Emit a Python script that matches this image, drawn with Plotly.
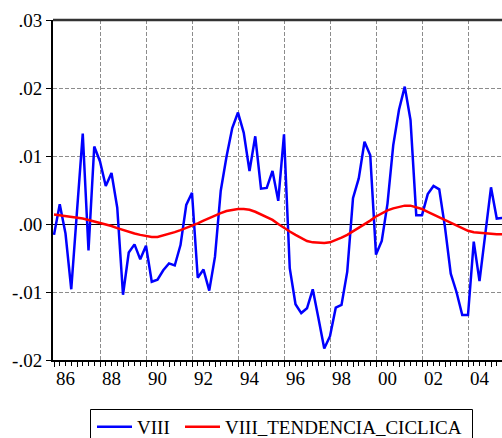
import plotly.graph_objects as go

# Quarterly data, 1986Q1 - 2005Q3
start_year = 1986
viii = [
    -0.0016, 0.0029, -0.0014, -0.0096,
    0.0019, 0.0133, -0.0039, 0.0114,
    0.0092, 0.0056, 0.0075, 0.0024,
    -0.0104, -0.0042, -0.0030, -0.0052,
    -0.0032, -0.0085, -0.0082, -0.0068,
    -0.0058, -0.0061, -0.0031, 0.0028,
    0.0046, -0.0079, -0.0067, -0.0098,
    -0.0048, 0.0049, 0.0099, 0.0141,
    0.0164, 0.0134, 0.0078, 0.0129,
    0.0052, 0.0053, 0.0078, 0.0034,
    0.0132, -0.0065, -0.0118, -0.0131,
    -0.0124, -0.0096, -0.0139, -0.0183,
    -0.0165, -0.0123, -0.0119, -0.0070,
    0.0038, 0.0067, 0.0121, 0.0101,
    -0.0045, -0.0025, 0.0030, 0.0116,
    0.0168, 0.0202, 0.0153, 0.0013,
    0.0013, 0.0044, 0.0056, 0.0051,
    -0.0005, -0.0073, -0.0100, -0.0134,
    -0.0134, -0.0026, -0.0084, -0.0014,
    0.0054, 0.0008, 0.0009,
]
tendencia = [
    0.0014, 0.0013, 0.0012, 0.0011,
    0.0010, 0.0008, 0.0006, 0.0004,
    0.0002, 0.0000, -0.0003, -0.0006,
    -0.0009, -0.0012, -0.0014, -0.0016,
    -0.0018, -0.0019, -0.0019, -0.0017,
    -0.0015, -0.0012, -0.0009, -0.0006,
    -0.0002, 0.0001, 0.0005, 0.0009,
    0.0012, 0.0016, 0.0019, 0.0021,
    0.0022, 0.0022, 0.0021, 0.0018,
    0.0014, 0.0010, 0.0006, 0.0000,
    -0.0006, -0.0011, -0.0016, -0.0021,
    -0.0025, -0.0027, -0.0028, -0.0028,
    -0.0027, -0.0024, -0.0020, -0.0016,
    -0.0011, -0.0006, -0.0001, 0.0005,
    0.0011, 0.0016, 0.0020, 0.0023,
    0.0025, 0.0027, 0.0027, 0.0025,
    0.0022, 0.0018, 0.0014, 0.0010,
    0.0006, 0.0001, -0.0003, -0.0007,
    -0.0010, -0.0012, -0.0013, -0.0014,
    -0.0014, -0.0015, -0.0015,
]
x_label_years = [1986, 1988, 1990, 1992, 1994, 1996, 1998, 2000, 2002, 2004]
x_labels = ["86", "88", "90", "92", "94", "96", "98", "00", "02", "04"]
y_ticks = [-0.02, -0.01, 0.0, 0.01, 0.02, 0.03]
y_labels = ["-.02", "-.01", ".00", ".01", ".02", ".03"]

t = [start_year + i / 4 for i in range(len(viii))]

FONT = "Liberation Serif, Times New Roman, Times, serif"
FS = 19
xr = [1986 - 1 / 23, 1986 + 448 / 23]

# plot area in pixels: left 53, width 449, bottom 360, height 340
def px_x(p):
    return (p - 53) / 449

def px_y(p):
    return -(p - 360) / 340

fig = go.Figure()
fig.add_trace(go.Scatter(x=t, y=viii, mode="lines", name="VIII", legend="legend",
                         line=dict(color="#0000ff", width=2.5)))
fig.add_trace(go.Scatter(x=t, y=tendencia, mode="lines", name="VIII_TENDENCIA_CICLICA",
                         legend="legend2", xaxis="x2",
                         line=dict(color="#ff0000", width=2.5)))

all_years = list(range(1986, 2006))
quarters = [y + q / 4 for y in range(1985, 2006) for q in (1, 2, 3)]
grid_years = [y for y in range(1988, 2006, 2)]

leg_common = dict(orientation="h", xanchor="left", yanchor="top",
                  borderwidth=0, bgcolor="rgba(0,0,0,0)",
                  font=dict(family=FONT, size=FS, color="black"),
                  itemwidth=35)

fig.update_layout(
    width=502, height=438,
    margin=dict(l=53, r=0, t=20, b=78, autoexpand=False),
    paper_bgcolor="white", plot_bgcolor="white",
    font=dict(family=FONT, size=FS, color="black"),
    showlegend=True,
    legend=dict(x=px_x(92), y=px_y(408), **leg_common),
    legend2=dict(x=px_x(180), y=px_y(408), **leg_common),
    xaxis=dict(
        range=xr, tickmode="array",
        tickvals=[y + 0.5 for y in x_label_years], ticktext=x_labels,
        ticks="", showgrid=False, zeroline=False,
        showline=True, linecolor="black", linewidth=2,
        tickfont=dict(family=FONT, size=FS),
        minor=dict(tickmode="array", tickvals=quarters, ticks="outside",
                   ticklen=4, tickwidth=1, tickcolor="black", showgrid=False),
    ),
    xaxis2=dict(
        range=xr, overlaying="x", side="bottom", tickmode="array",
        tickvals=all_years, ticks="outside", ticklen=6, tickwidth=1, tickcolor="black",
        showticklabels=False, showgrid=False, zeroline=False, showline=False,
        minor=dict(tickmode="array", tickvals=grid_years, ticks="", showgrid=True,
                   gridcolor="#8c8c8c", griddash="4px,2px", gridwidth=1),
    ),
    yaxis=dict(
        range=[-0.02, 0.03], tickmode="array", tickvals=y_ticks, ticktext=y_labels,
        ticks="outside", ticklen=5, tickwidth=1, tickcolor="black",
        showgrid=True, gridcolor="#8c8c8c", griddash="4px,2px", gridwidth=1,
        zeroline=True, zerolinecolor="black", zerolinewidth=1,
        showline=True, linecolor="black", linewidth=2,
        tickfont=dict(family=FONT, size=FS),
    ),
    shapes=[
        dict(type="line", xref="paper", yref="paper", x0=0, x1=1, y0=1, y1=1,
             line=dict(color="#333333", width=2.5)),
        dict(type="rect", xref="paper", yref="paper",
             x0=px_x(90.5), x1=px_x(472.5), y0=px_y(409.5), y1=px_y(460),
             line=dict(color="black", width=1), fillcolor="rgba(0,0,0,0)"),
    ],
)

fig.write_html(
    "out.html",
    config={"displayModeBar": False},
    post_script="document.body.style.margin='0';document.body.style.overflow='hidden';",
)
